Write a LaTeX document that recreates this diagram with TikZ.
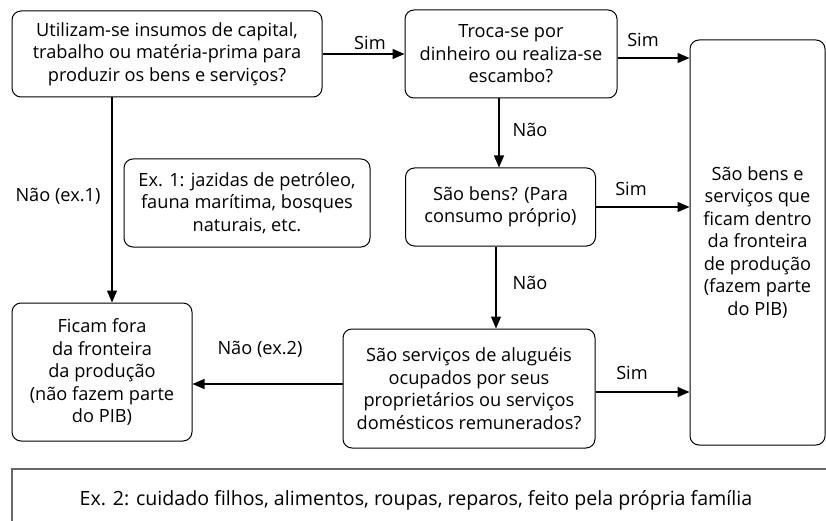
\documentclass[tikz,border=0pt]{standalone}
\usepackage{fontspec}
\setmainfont{Open Sans}
\usetikzlibrary{arrows.meta}

\begin{document}
\begin{tikzpicture}[x=1pt,y=-1pt,
    every node/.style={font=\fontsize{18.2}{22.5}\selectfont},
    box/.style={draw,rounded corners=9pt,align=center,line width=1pt,inner sep=0pt},
    arr/.style={-{Triangle[length=12pt,width=10pt]},line width=1.1pt}]
  \useasboundingbox (0,0) rectangle (826,521);

  % Drawing the question boxes
  \node[box,minimum width=310,minimum height=86] (insumos) at (167,54)
    {Utilizam-se insumos de capital,\\trabalho ou matéria-prima para\\produzir os bens e serviços?};
  \node[box,minimum width=212,minimum height=88] (troca) at (511,54)
    {Troca-se por\\dinheiro ou realiza-se\\escambo?};
  \node[box,minimum width=190,minimum height=78] (bens) at (500.5,207)
    {São bens? (Para\\consumo próprio)};
  \node[box,minimum width=252,minimum height=119] (servicos) at (469,388.5)
    {São serviços de aluguéis\\ocupados por seus\\proprietários ou serviços\\domésticos remunerados?};

  % Drawing the outcome boxes
  \node[box,minimum width=135,minimum height=405] (dentro) at (757.5,242.5)
    {São bens e\\serviços que\\ficam dentro\\da fronteira\\de produção\\(fazem parte\\do PIB)};
  \node[box,minimum width=180,minimum height=138] (fora) at (102,372)
    {Ficam fora\\da fronteira\\da produção\\(não fazem parte\\do PIB)};

  % Marking example 1
  \node[box,minimum width=246,minimum height=88] (ex1) at (247,203)
    {Ex. 1: jazidas de petróleo,\\fauna marítima, bosques\\naturais, etc.};

  % Drawing arrows
  \draw[arr] (insumos.east) -- (troca.west);
  \draw[arr] (troca.east |- 0,58) -- (dentro.west |- 0,58);
  \draw[arr] (troca.south -| 499,0) -- (bens.north -| 499,0);
  \draw[arr] (bens.east) -- (bens.east -| dentro.west);
  \draw[arr] (bens.south -| 496,0) -- (servicos.north -| 496,0);
  \draw[arr] (insumos.south -| 112,0) -- (fora.north -| 112,0);
  \draw[arr] (servicos.west |- 0,384) -- (fora.east |- 0,384);
  \draw[arr] (servicos.east |- 0,392) -- (dentro.west |- 0,392);

  % Marking the answers
  \node (sim1) at (370,43) {Sim};
  \node (sim2) at (643,40) {Sim};
  \node (sim3) at (631,189) {Sim};
  \node (sim4) at (632,373) {Sim};
  \node (nao1) at (530,130) {Não};
  \node (nao2) at (530,283) {Não};
  \node (naoex1) at (58,196) {Não (ex.1)};
  \node (naoex2) at (260,349) {Não (ex.2)};

  % Marking example 2
  \begin{scope}
    \clip (0,0) rectangle (826,521);
    \draw[line width=1.4pt,black!60] (12,540) -- (12,469) -- (840,469);
  \end{scope}
  \node[font=\fontsize{19.6}{24}\selectfont] (ex2) at (416,500)
    {Ex. 2: cuidado filhos, alimentos, roupas, reparos, feito pela própria família};
\end{tikzpicture}
\end{document}
